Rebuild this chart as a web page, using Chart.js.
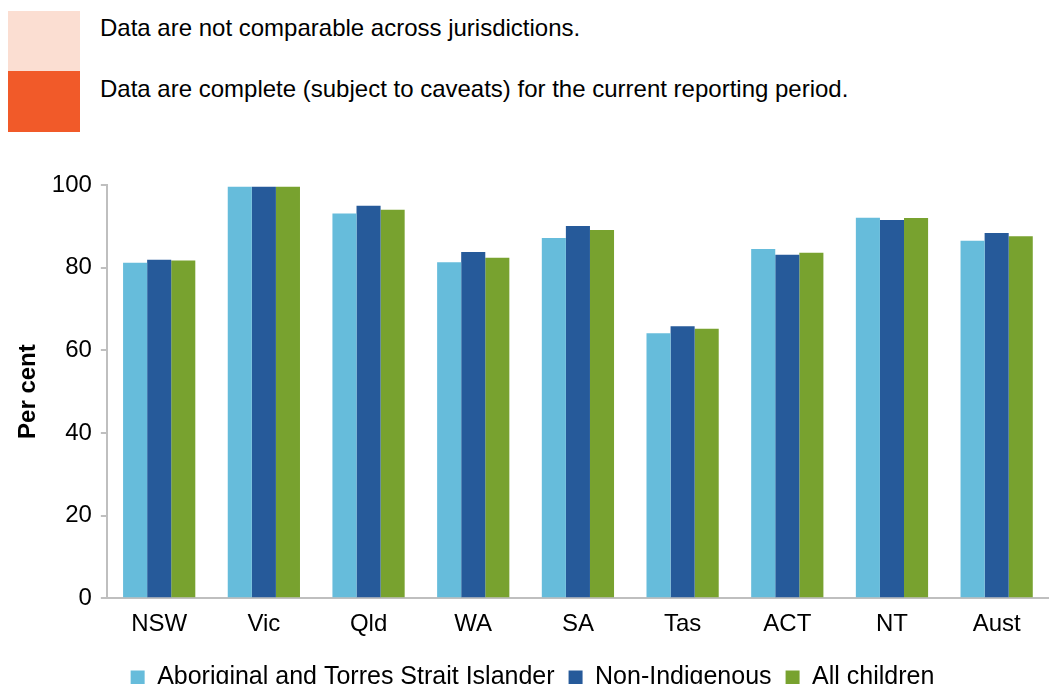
<!DOCTYPE html>
<html>
<head>
<meta charset="utf-8">
<script src="https://cdn.jsdelivr.net/npm/chart.js@4"></script>
<style>
  body { margin: 0; background: #fff; font-family: "Liberation Sans", Arial, sans-serif; overflow: hidden; }
  .key { position: absolute; left: 8px; width: 72px; height: 61px; }
  .keytext { position: absolute; left: 100px; font-size: 24px; color: #000; white-space: nowrap; }
  #wrap { position: absolute; left: 0; top: 140px; width: 1049px; height: 560px; }
</style>
</head>
<body>
<div class="key" style="top:11px;background:#fbded2"></div>
<div class="key" style="top:71px;background:#f15a29"></div>
<div class="keytext" style="top:14px">Data are not comparable across jurisdictions.</div>
<div class="keytext" style="top:75px">Data are complete (subject to caveats) for the current reporting period.</div>
<div id="wrap"><canvas id="c"></canvas></div>
<script>
const categories = ['NSW', 'Vic', 'Qld', 'WA', 'SA', 'Tas', 'ACT', 'NT', 'Aust'];
const aboriginal = [81.2, 99.6, 93.1, 81.3, 87.2, 64.1, 84.5, 92.1, 86.5];
const nonIndigenous = [81.9, 99.6, 95.0, 83.8, 90.1, 65.8, 83.1, 91.5, 88.4];
const allChildren = [81.7, 99.6, 94.0, 82.4, 89.1, 65.2, 83.6, 92.0, 87.6];
const yTicks = [0, 20, 40, 60, 80, 100];

Chart.defaults.font.family = '"Liberation Sans", Arial, sans-serif';
Chart.defaults.color = '#000';

const ctx = document.getElementById('c').getContext('2d');
new Chart(ctx, {
    type: 'bar',
    data: {
        labels: categories,
        datasets: [
            { label: 'Aboriginal and Torres Strait Islander', data: aboriginal, backgroundColor: '#66bcdb' },
            { label: 'Non-Indigenous', data: nonIndigenous, backgroundColor: '#265a9a' },
            { label: 'All children', data: allChildren, backgroundColor: '#78a22f' }
        ]
    },
    options: {
        responsive: true,
        maintainAspectRatio: false,
        animation: false,
        layout: { padding: { top: 45, right: -8, left: 8, bottom: 0 } },
        datasets: { bar: { categoryPercentage: 0.69, barPercentage: 1.0 } },
        plugins: {
            legend: {
                position: 'bottom',
                labels: { boxWidth: 14, boxHeight: 14, font: { size: 25 }, padding: 14 }
            },
            tooltip: { enabled: false }
        },
        scales: {
            x: {
                grid: { display: false, drawTicks: false },
                border: { color: '#bfbfbf', width: 2 },
                ticks: { font: { size: 24 }, padding: 12 }
            },
            y: {
                min: 0,
                max: 100,
                afterBuildTicks: axis => { axis.ticks = yTicks.map(v => ({ value: v })); },
                grid: { display: true, drawOnChartArea: false, drawTicks: true, tickLength: 6, color: '#bfbfbf', lineWidth: 2 },
                border: { color: '#bfbfbf', width: 2 },
                ticks: { font: { size: 24 }, padding: 9 },
                title: { display: true, text: 'Per cent', font: { size: 24, weight: 'bold' }, padding: { top: 6, bottom: 0 } }
            }
        }
    }
});
</script>
</body>
</html>
